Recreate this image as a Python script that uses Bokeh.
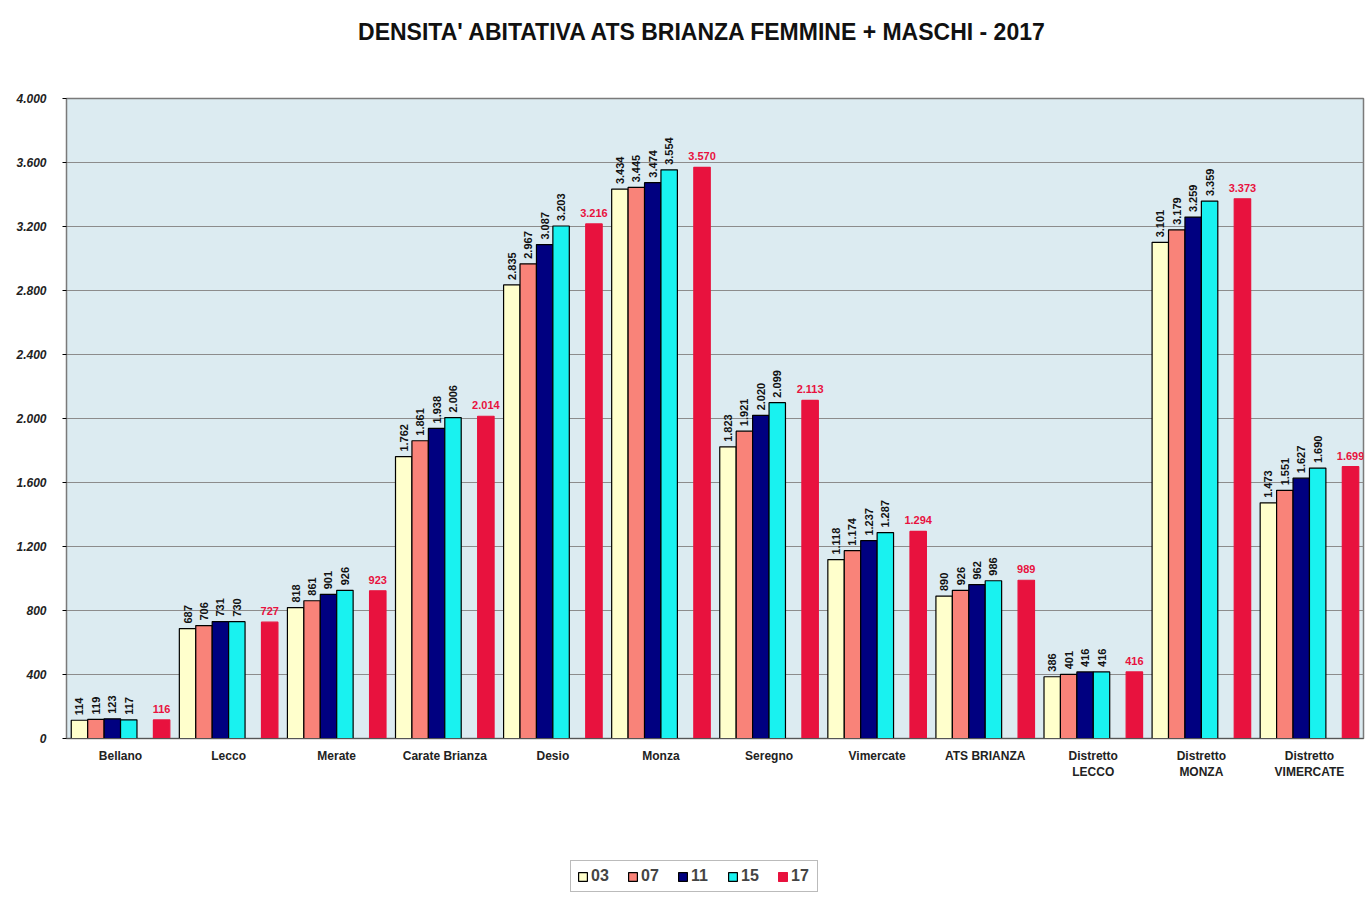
from bokeh.plotting import figure
from bokeh.layouts import column
from bokeh.models import (ColumnDataSource, FactorRange, Range1d, FixedTicker,
                          CustomJSTickFormatter, Legend, LegendItem)
from bokeh.transform import dodge
from bokeh.core.properties import value
from bokeh.embed import file_html
from bokeh.resources import INLINE
import math

title_text = "DENSITA' ABITATIVA ATS BRIANZA  FEMMINE +  MASCHI - 2017"
categories = ["Bellano", "Lecco", "Merate", "Carate Brianza", "Desio", "Monza",
              "Seregno", "Vimercate", "ATS BRIANZA", "Distretto\nLECCO",
              "Distretto\nMONZA", "Distretto\nVIMERCATE"]
years = ["03", "07", "11", "15", "17"]
v03 = [114, 687, 818, 1762, 2835, 3434, 1823, 1118, 890, 386, 3101, 1473]
v07 = [119, 706, 861, 1861, 2967, 3445, 1921, 1174, 926, 401, 3179, 1551]
v11 = [123, 731, 901, 1938, 3087, 3474, 2020, 1237, 962, 416, 3259, 1627]
v15 = [117, 730, 926, 2006, 3203, 3554, 2099, 1287, 986, 416, 3359, 1690]
v17 = [116, 727, 923, 2014, 3216, 3570, 2113, 1294, 989, 416, 3373, 1699]
y_ticks = list(range(0, 4001, 400))

series = [v03, v07, v11, v15, v17]
colors = ["#FFFFCC", "#F98379", "#000080", "#19F2F0", "#E8123E"]
w = 0.152
offsets = [-2.5 * w, -1.5 * w, -0.5 * w, 0.5 * w, 2.5 * w]
FONT = "Liberation Sans"

def fmt(n):
    return f"{n:,}".replace(",", ".")

data = {"cat": categories}
for y, s in zip(years, series):
    data["v" + y] = s
    data["t" + y] = [fmt(n) for n in s]
src = ColumnDataSource(data)

# ---- title strip (x range in page pixels, frames aligned with the chart) ----
tf = figure(width=1370, height=60, x_range=Range1d(66, 1363), y_range=Range1d(0, 60),
            x_axis_type=None, y_axis_type=None, toolbar_location=None,
            output_backend="svg", min_border=0)
tf.outline_line_color = None
tf.grid.grid_line_color = None
tf.text(x=[709], y=[29], text=[title_text], text_align="center",
        text_baseline="middle", text_font=value(FONT), text_font_size="23px",
        text_font_style="bold", text_color="#111111")

# ---- main chart ----
p = figure(x_range=FactorRange(*categories, range_padding=0),
           y_range=Range1d(0, 4000),
           frame_width=1297, frame_height=640, output_backend="svg", toolbar_location=None,
           min_border_left=66, min_border_right=7, min_border_top=38,
           min_border_bottom=50)

p.background_fill_color = "#DCEBF1"
p.border_fill_color = "white"
p.outline_line_color = "#7a7a7a"
p.outline_line_width = 1.5
p.xgrid.grid_line_color = None
p.ygrid.grid_line_color = "#8c8c8c"
p.ygrid.grid_line_width = 1

for y, off, col in zip(years, offsets, colors):
    lc = "black" if y != "17" else col
    p.vbar(x=dodge("cat", off, range=p.x_range), top="v" + y, width=w,
           source=src, fill_color=col, line_color=lc, line_width=1.2)
    if y != "17":
        p.text(x=dodge("cat", off, range=p.x_range), y="v" + y, text="t" + y,
               source=src, angle=math.pi / 2, text_align="left",
               text_baseline="middle", y_offset=-5,
               text_font=value(FONT), text_font_size="11px",
               text_font_style="bold", text_color="#111111")
    else:
        p.text(x=dodge("cat", off, range=p.x_range), y="v" + y, text="t" + y,
               source=src, text_align="center", text_baseline="bottom",
               y_offset=-7, text_font=value(FONT),
               text_font_size="11px", text_font_style="bold",
               text_color="#E8123E")

p.yaxis.ticker = FixedTicker(ticks=y_ticks)
p.yaxis.formatter = CustomJSTickFormatter(
    code="return tick.toFixed(0).replace(/\\B(?=(\\d{3})+(?!\\d))/g, '.');")
p.yaxis.major_label_text_font = FONT
p.yaxis.major_label_text_font_size = "12px"
p.yaxis.major_label_text_font_style = "bold italic"
p.yaxis.major_label_text_color = "#222222"
p.yaxis.major_label_standoff = 16
p.yaxis.major_tick_out = 4
p.yaxis.major_tick_in = 0
p.yaxis.minor_tick_line_color = None
p.yaxis.axis_line_color = "#7a7a7a"

p.xaxis.major_label_text_font = FONT
p.xaxis.major_label_text_font_size = "12px"
p.xaxis.major_label_text_font_style = "bold"
p.xaxis.major_label_text_color = "#222222"
p.xaxis.major_label_standoff = 4
p.xaxis.major_tick_line_color = None
p.xaxis.axis_line_color = "#555555"

# ---- legend strip ----
lf = figure(width=1370, height=110, x_range=Range1d(66, 1363), y_range=Range1d(0, 110),
            x_axis_type=None, y_axis_type=None, toolbar_location=None,
            output_backend="svg", min_border=0)
lf.outline_line_color = None
lf.grid.grid_line_color = None
items = []
for y, col in zip(years, colors):
    lc = "black" if y != "17" else col
    # zero-height swatch source placed outside the strip's visible range
    r = lf.vbar(x=[0], top=[0], width=1, fill_color=col, line_color=lc, line_width=1.2)
    items.append(LegendItem(label=y, renderers=[r]))
legend = Legend(items=items, orientation="horizontal", location=(504, 6),
                label_text_font=FONT, label_text_font_size="16px",
                label_text_font_style="bold", glyph_width=11, glyph_height=11,
                label_standoff=3, spacing=16, padding=6, margin=0,
                border_line_color="#777777", border_line_width=1.5,
                background_fill_color="white")
lf.add_layout(legend, "center")

layout = column(tf, p, lf, spacing=0)
open("out.html", "w").write(file_html(layout, INLINE))
